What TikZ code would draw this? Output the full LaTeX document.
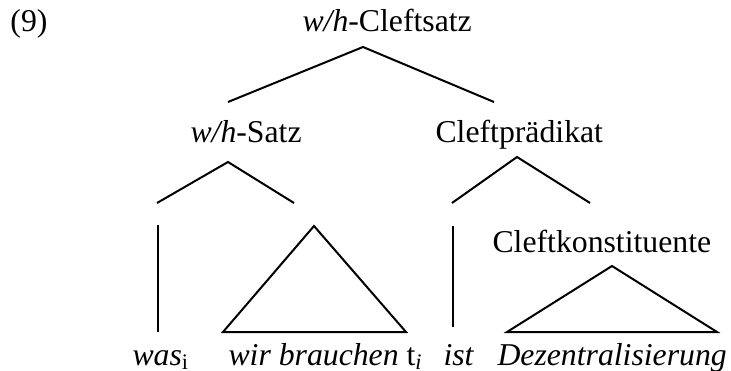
\documentclass[tikz,border=0pt]{standalone}
\usepackage{fontspec}
\setmainfont{Liberation Serif}

\begin{document}
\begin{tikzpicture}[
  x=0.4pt, y=-0.4pt,
  every node/.style={font=\fontsize{12.7}{15}\selectfont, inner sep=0pt},
  lbl/.style={anchor=base west},
  branch/.style={line width=0.8pt, line join=miter}
]
\useasboundingbox (0,0) rectangle (731,371);

% Labels
\node[lbl] (num) at (10,31.5) {(9)};
\node[lbl] (cleftsatz) at (302,31.5) {\textit{w/h}-Cleftsatz};
\node[lbl] (whsatz) at (190,143) {\textit{w/h}-Satz};
\node[lbl] (cleftpraed) at (435,143) {Cleftprädikat};
\node[lbl] (konst) at (492,253) {Cleftkonstituente};

% Terminals
\node[lbl] (was) at (132,365) {\textit{was}\textsubscript{i}};
\node[lbl] (wir) at (228,365) {\textit{wir brauchen} t\textsubscript{\textit{i}}};
\node[lbl] (ist) at (443,365) {\textit{ist}};
\node[lbl] (dezent) at (497,365) {\textit{Dezentralisierung}};

% Branch points
\coordinate (top) at (363,47);
\coordinate (topL) at (228,102);
\coordinate (topR) at (494,102);
\coordinate (satzTop) at (228,162);
\coordinate (satzL) at (157,203);
\coordinate (satzR) at (294,203);
\coordinate (praedTop) at (517,157);
\coordinate (praedL) at (452,203);
\coordinate (praedR) at (590,203);

% Branches
\draw[branch] (topL) -- (top) -- (topR);
\draw[branch] (satzL) -- (satzTop) -- (satzR);
\draw[branch] (praedL) -- (praedTop) -- (praedR);

% Was and ist
\coordinate (wasUp) at (158,225);
\coordinate (wasDown) at (158,332);
\coordinate (istUp) at (453,226);
\coordinate (istDown) at (453,327);
\draw[branch] (wasUp) -- (wasDown);
\draw[branch] (istUp) -- (istDown);

% Triangles
\coordinate (wirTop) at (314,226);
\coordinate (wirL) at (223,332);
\coordinate (wirR) at (406,332);
\draw[branch] (wirTop) -- (wirL) -- (wirR) -- cycle;

\coordinate (konstTop) at (612,266);
\coordinate (konstL) at (507,332);
\coordinate (konstR) at (717,332);
\draw[branch] (konstTop) -- (konstL) -- (konstR) -- cycle;

\end{tikzpicture}
\end{document}
